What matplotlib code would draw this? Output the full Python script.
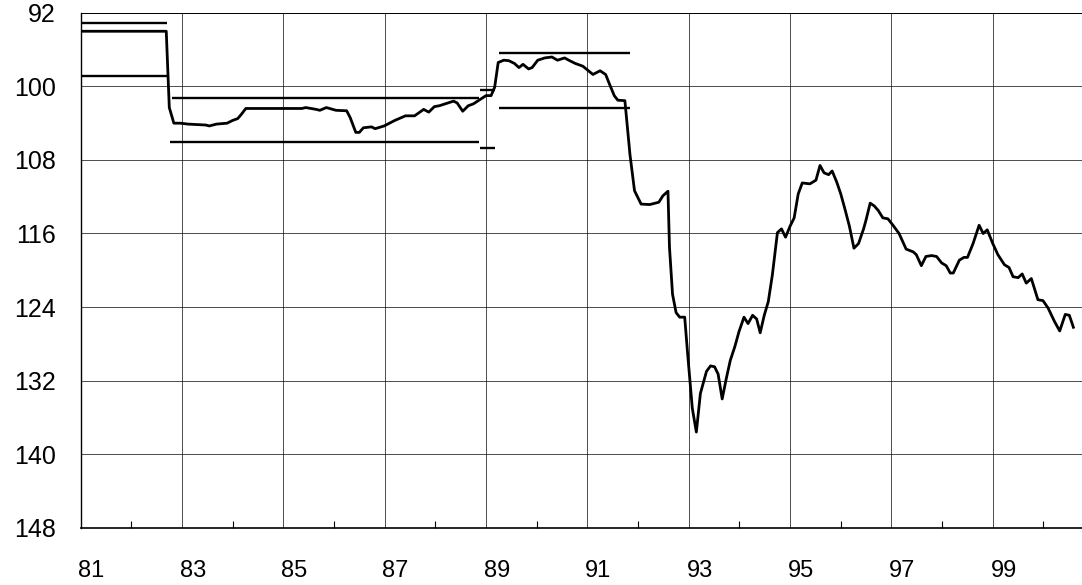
"""Index line with reference bands, inverted scale, 1981-2000."""
import matplotlib
matplotlib.use("Agg")
import matplotlib.pyplot as plt
import matplotlib.transforms as mtransforms
from matplotlib.ticker import MultipleLocator

# main series (year, index value)
years = [
    81.0, 82.69, 82.75, 82.84, 82.97, 83.12, 83.47, 83.54, 83.68, 83.89, 84.0,
    84.1, 84.17, 84.26, 85.37, 85.44, 85.65, 85.72, 85.85, 86.04, 86.25, 86.32,
    86.43, 86.5, 86.58, 86.74, 86.81, 86.99, 87.2, 87.41, 87.59, 87.77, 87.87,
    87.98, 88.08, 88.19, 88.36, 88.43, 88.54, 88.65, 88.75, 88.86, 89.0, 89.1,
    89.17, 89.24, 89.35, 89.45, 89.56, 89.65, 89.73, 89.84, 89.91, 90.02, 90.16,
    90.3, 90.41, 90.55, 90.65, 90.76, 90.91, 91.0, 91.11, 91.25, 91.36, 91.44,
    91.53, 91.6, 91.74, 91.84, 91.93, 92.06, 92.23, 92.41, 92.49, 92.59, 92.62,
    92.68, 92.75, 92.82, 92.92, 92.98, 93.07, 93.15, 93.23, 93.35, 93.43, 93.51,
    93.58, 93.66, 93.74, 93.82, 93.91, 93.99, 94.09, 94.17, 94.26, 94.34, 94.41,
    94.49, 94.57, 94.65, 94.75, 94.83, 94.91, 95.0, 95.08, 95.16, 95.24, 95.39,
    95.51, 95.59, 95.67, 95.76, 95.83, 95.92, 96.0, 96.08, 96.17, 96.26, 96.35,
    96.45, 96.5, 96.58, 96.66, 96.74, 96.83, 96.93, 97.03, 97.15, 97.29, 97.43,
    97.49, 97.59, 97.68, 97.79, 97.89, 97.99, 98.08, 98.16, 98.22, 98.34, 98.43,
    98.5, 98.61, 98.73, 98.81, 98.89, 99.0, 99.1, 99.23, 99.32, 99.4, 99.5,
    99.58, 99.66, 99.76, 99.89, 99.99, 100.09, 100.22, 100.32, 100.43, 100.51,
    100.59,
]
values = [
    94.0, 94.0, 102.3, 104.0, 104.0, 104.1, 104.2, 104.3, 104.1, 104.0, 103.7,
    103.5, 103.05, 102.4, 102.4, 102.3, 102.5, 102.6, 102.3, 102.6, 102.65, 103.4,
    105.0, 105.0, 104.5, 104.4, 104.6, 104.3, 103.7, 103.2, 103.2, 102.5, 102.8,
    102.2, 102.1, 101.9, 101.6, 101.8, 102.7, 102.1, 101.9, 101.5, 101.0, 101.0,
    100.1, 97.4, 97.15, 97.2, 97.5, 97.95, 97.6, 98.1, 97.95, 97.15, 96.9,
    96.8, 97.15, 96.9, 97.2, 97.5, 97.8, 98.2, 98.7, 98.3, 98.7, 99.8,
    101.0, 101.5, 101.55, 107.4, 111.35, 112.8, 112.85, 112.6, 111.9, 111.4, 117.5,
    122.6, 124.6, 125.1, 125.1, 129.2, 135.0, 137.6, 133.4, 131.0, 130.4, 130.5,
    131.3, 134.0, 131.8, 129.8, 128.3, 126.7, 125.1, 125.8, 124.9, 125.3, 126.8,
    124.9, 123.4, 120.5, 115.9, 115.5, 116.4, 115.2, 114.3, 111.7, 110.5, 110.6,
    110.2, 108.6, 109.4, 109.6, 109.2, 110.4, 111.7, 113.3, 115.2, 117.6, 117.1,
    115.5, 114.5, 112.7, 113.0, 113.5, 114.3, 114.4, 115.1, 116.0, 117.7, 118.0,
    118.3, 119.5, 118.5, 118.4, 118.5, 119.2, 119.5, 120.3, 120.3, 118.9, 118.6,
    118.6, 117.1, 115.1, 116.0, 115.6, 117.1, 118.3, 119.4, 119.7, 120.7, 120.8,
    120.4, 121.4, 120.9, 123.2, 123.3, 124.1, 125.6, 126.6, 124.8, 124.9,
    126.2,
]

# reference bands: level, start year, end year
band_levels = [93.1, 98.85, 101.3, 106.0, 100.4, 106.75, 96.4, 102.4]
band_start = [81.0, 81.0, 82.8, 82.76, 88.89, 88.89, 89.25, 89.25]
band_end = [82.7, 82.7, 88.86, 88.86, 89.17, 89.17, 91.84, 91.84]

y_ticks = [92, 100, 108, 116, 124, 132, 140, 148]
x_labels = ["81", "83", "85", "87", "89", "91", "93", "95", "97", "99"]

plt.rcParams["font.family"] = ["Liberation Sans", "DejaVu Sans"]

fig = plt.figure(figsize=(10.82, 5.85), dpi=100)
ax = fig.add_axes([0.0745, 0.098, 0.9255, 0.88])

ax.plot(years, values, color="black", lw=2.0, solid_joinstyle="round", zorder=3)
ax.hlines(band_levels, band_start, band_end, color="black", lw=1.7, zorder=3)

ax.set_xlim(81, 100.76)
ax.set_ylim(148, 92)

ax.set_yticks(y_ticks)
ax.set_xticks([int(s) for s in x_labels])
ax.set_xticklabels(x_labels)
ax.xaxis.set_minor_locator(MultipleLocator(1))
ax.tick_params(axis="x", which="major", length=0, pad=23, labelsize=17)
ax.tick_params(axis="x", which="minor", direction="in", length=5, width=0.8)
ax.tick_params(axis="y", length=0, pad=18, labelsize=18)

# year labels sit a little right of their gridline in the original
shift = mtransforms.ScaledTranslation(11 / 100, 0, fig.dpi_scale_trans)
for lab in ax.get_xticklabels():
    lab.set_transform(lab.get_transform() + shift)

ax.grid(True, which="major", color="black", lw=0.7, alpha=0.7)
ax.spines["right"].set_visible(False)
ax.spines["top"].set_linewidth(0.7)
ax.spines["left"].set_linewidth(1.0)
ax.spines["bottom"].set_linewidth(1.2)

fig.savefig("out.png", dpi=100)
